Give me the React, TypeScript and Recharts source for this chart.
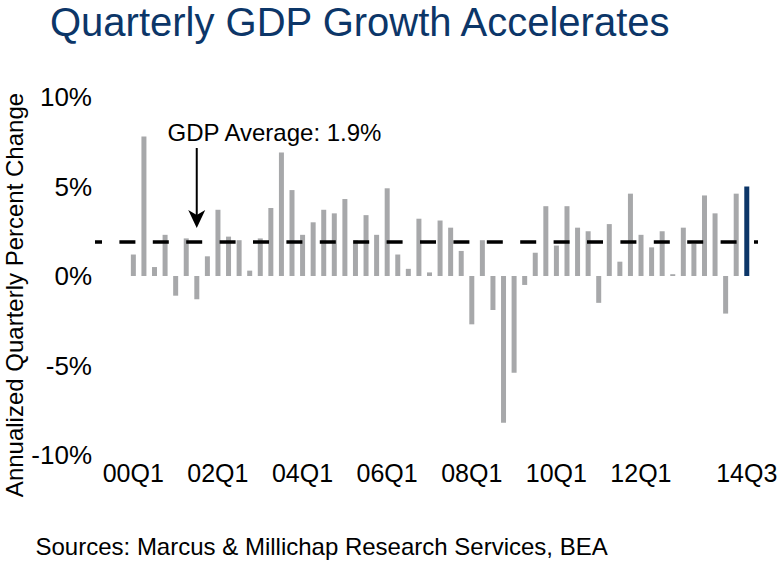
import { BarChart, Bar, XAxis, YAxis, ReferenceLine, ReferenceDot, Cell } from 'recharts';

// Quarter labels, 2000 Q1 through 2014 Q3
const quarters = [
  '00Q1', '00Q2', '00Q3', '00Q4',
  '01Q1', '01Q2', '01Q3', '01Q4',
  '02Q1', '02Q2', '02Q3', '02Q4',
  '03Q1', '03Q2', '03Q3', '03Q4',
  '04Q1', '04Q2', '04Q3', '04Q4',
  '05Q1', '05Q2', '05Q3', '05Q4',
  '06Q1', '06Q2', '06Q3', '06Q4',
  '07Q1', '07Q2', '07Q3', '07Q4',
  '08Q1', '08Q2', '08Q3', '08Q4',
  '09Q1', '09Q2', '09Q3', '09Q4',
  '10Q1', '10Q2', '10Q3', '10Q4',
  '11Q1', '11Q2', '11Q3', '11Q4',
  '12Q1', '12Q2', '12Q3', '12Q4',
  '13Q1', '13Q2', '13Q3', '13Q4',
  '14Q1', '14Q2', '14Q3',
];

// Annualized quarterly percent change
const growth = [
  1.2, 7.8, 0.5, 2.3,
  -1.1, 2.1, -1.3, 1.1,
  3.7, 2.2, 2.0, 0.3,
  2.1, 3.8, 6.9, 4.8,
  2.3, 3.0, 3.7, 3.5,
  4.3, 2.0, 3.4, 2.3,
  4.9, 1.2, 0.4, 3.2,
  0.2, 3.1, 2.7, 1.4,
  -2.7, 2.0, -1.9, -8.2,
  -5.4, -0.5, 1.3, 3.9,
  1.7, 3.9, 2.7, 2.5,
  -1.5, 2.9, 0.8, 4.6,
  2.3, 1.6, 2.5, 0.1,
  2.7, 1.8, 4.5, 3.5,
  -2.1, 4.6, 5.0,
];

const averageGrowth = 1.9;
const latestQuarter = '14Q3';
const xTicks = ['00Q1', '02Q1', '04Q1', '06Q1', '08Q1', '10Q1', '12Q1', '14Q3'];
const yTicks = [-10, -5, 0, 5, 10];

const data = quarters.map((quarter, i) => ({ quarter, growth: growth[i] }));

const FONT = '"Liberation Sans", Arial, Helvetica, sans-serif';
const NAVY = '#0c3668';
const GRAY = '#a7a8aa';

const ArrowHead = (props: any) => {
  const { cx, cy } = props;
  return (
    <path
      d={`M${cx},${cy} L${cx - 8.5},${cy - 18} L${cx},${cy - 13} L${cx + 8.5},${cy - 18} Z`}
      fill="#000"
    />
  );
};

const AverageNote = (props: any) => {
  const { cx, cy } = props;
  return (
    <text x={cx + 2.5} y={cy} fontSize={24} fontFamily={FONT} fill="#000">
      GDP Average: {averageGrowth}%
    </text>
  );
};

const YLabel = (props: any) => {
  const vb = props.viewBox || { y: 97, height: 358 };
  const cy = vb.y + vb.height / 2 + 19;
  return (
    <text
      transform={`translate(14, ${cy}) rotate(-90)`}
      textAnchor="middle"
      dominantBaseline="central"
      fontSize={24}
      fontFamily={FONT}
      fill="#000"
    >
      Annualized Quarterly Percent Change
    </text>
  );
};

export default function App() {
  return (
    <div style={{ position: 'absolute', left: 0, top: 0, width: 778, height: 564, background: '#fff' }}>
      <div
        style={{
          position: 'absolute',
          left: 50,
          top: 0,
          fontFamily: FONT,
          fontSize: 40,
          lineHeight: 'normal',
          color: NAVY,
          whiteSpace: 'nowrap',
        }}
      >
        Quarterly GDP Growth Accelerates
      </div>
      <BarChart
        width={778}
        height={564}
        data={data}
        margin={{ top: 97, right: 20, left: 0, bottom: 69 }}
        barCategoryGap="27%"
      >
        <XAxis
          dataKey="quarter"
          ticks={xTicks}
          interval={0}
          axisLine={false}
          tickLine={false}
          tickSize={6}
          tickMargin={3}
          height={40}
          padding={{ left: 33, right: 6 }}
          tick={{ fontSize: 25, fontFamily: FONT, fill: '#000' }}
        />
        <YAxis
          domain={[-10, 10]}
          ticks={yTicks}
          width={95}
          axisLine={false}
          tickLine={false}
          tickSize={0}
          tickMargin={3}
          tickFormatter={(v: number) => `${v}%`}
          tick={{ fontSize: 26, fontFamily: FONT, fill: '#000' }}
          label={{ content: YLabel }}
        />
        <Bar dataKey="growth" isAnimationActive={false}>
          {data.map((d) => (
            <Cell key={d.quarter} fill={d.quarter === latestQuarter ? NAVY : GRAY} />
          ))}
        </Bar>
        <ReferenceLine
          y={averageGrowth}
          stroke="#000"
          strokeWidth={3.5}
          strokeDasharray="16 17.4"
          strokeDashoffset={9}
        />
        <ReferenceLine
          segment={[
            { x: '01Q3', y: 7.15 },
            { x: '01Q3', y: 3.4 },
          ]}
          stroke="#000"
          strokeWidth={2}
        />
        <ReferenceDot x="01Q3" y={2.68} shape={ArrowHead} />
        <ReferenceDot x="00Q4" y={7.54} shape={AverageNote} />
      </BarChart>
      <div
        style={{
          position: 'absolute',
          left: 35.5,
          top: 534.5,
          fontFamily: FONT,
          fontSize: 24,
          lineHeight: 1,
          color: '#000',
          whiteSpace: 'nowrap',
        }}
      >
        Sources: Marcus &amp; Millichap Research Services, BEA
      </div>
    </div>
  );
}
